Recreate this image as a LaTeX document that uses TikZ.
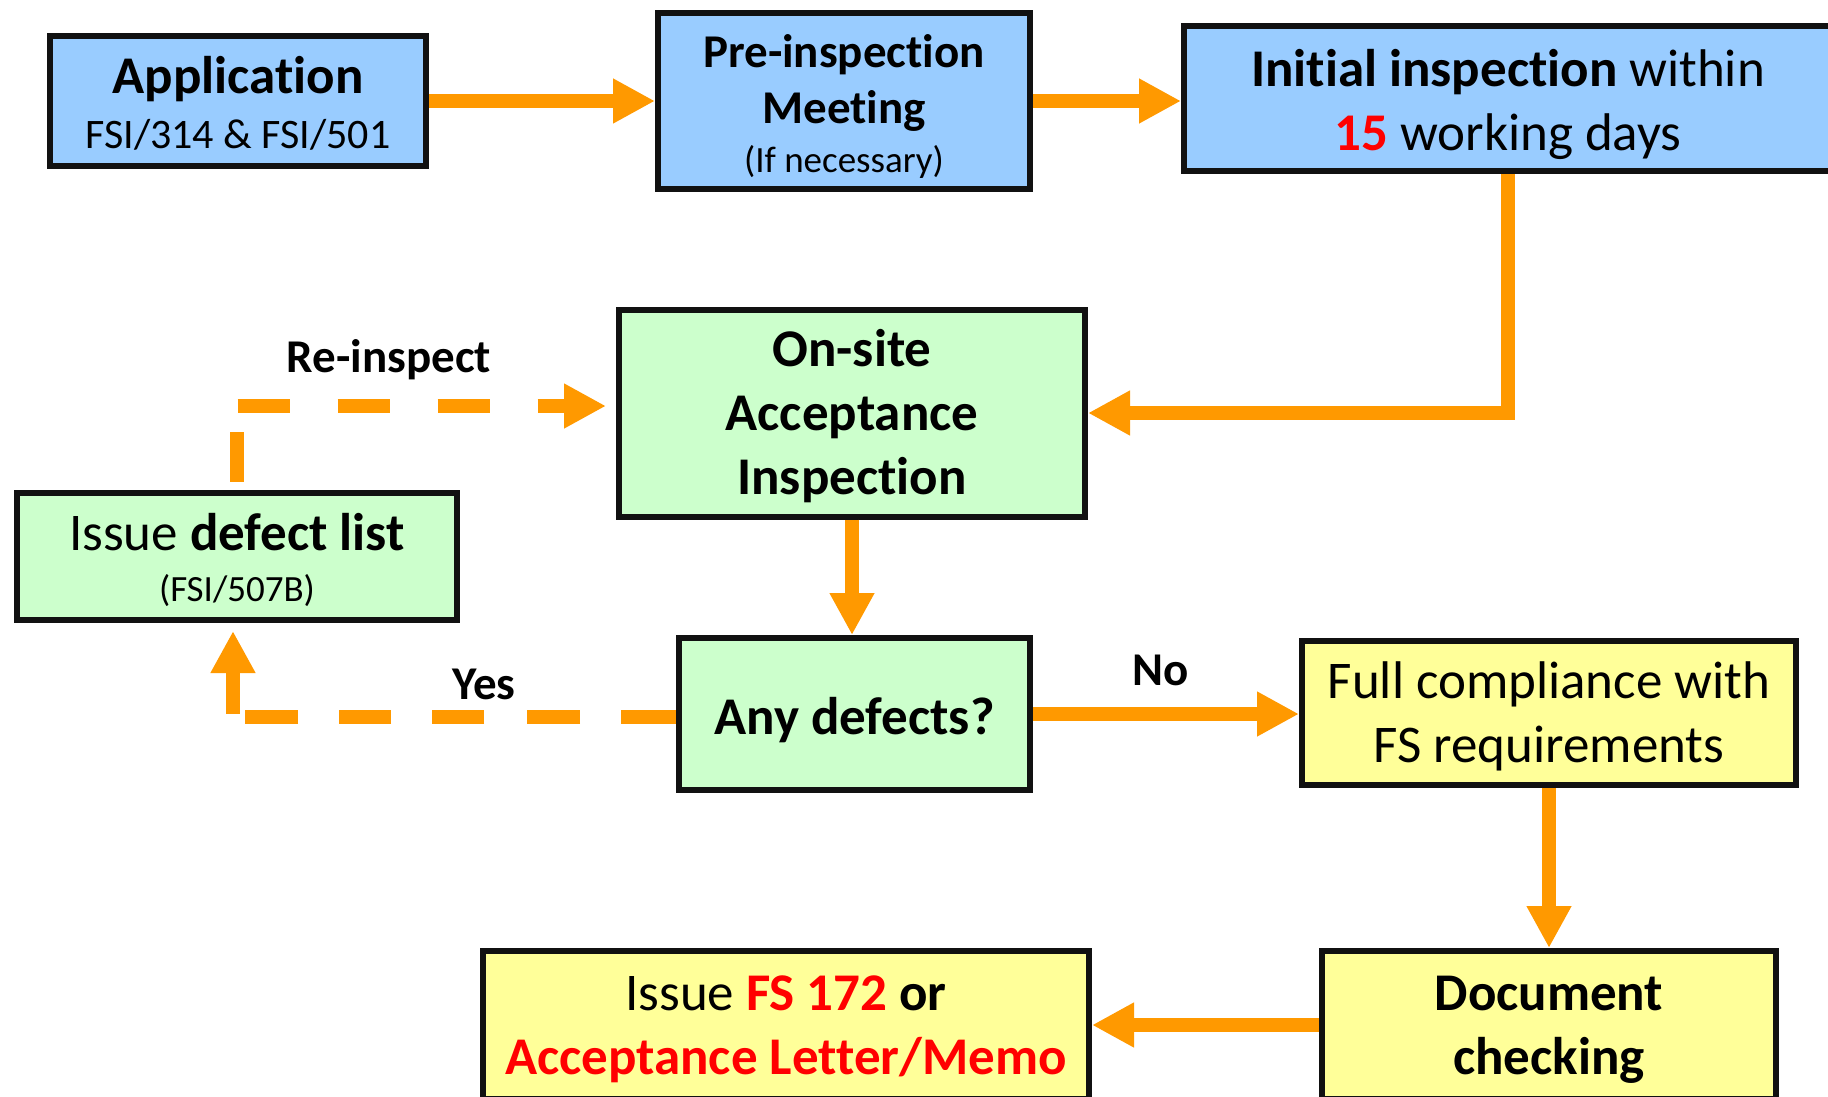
\documentclass[tikz,border=0pt]{standalone}
\usepackage{fontspec}
\setmainfont{Carlito}[Ligatures=NoCommon]
\usetikzlibrary{arrows.meta,calc}
\definecolor{boxblue}{HTML}{99CCFF}
\definecolor{boxgreen}{HTML}{CCFFCC}
\definecolor{boxyellow}{HTML}{FFFF99}
\definecolor{orng}{HTML}{FF9900}
\definecolor{redtxt}{HTML}{FF0000}
\definecolor{edge}{HTML}{111111}
\newcommand{\bigf}{\fontsize{53}{64}\selectfont}
\newcommand{\midf}{\fontsize{47}{56}\selectfont}
\newcommand{\subf}{\fontsize{42}{50}\selectfont}
\newcommand{\smlf}{\fontsize{37}{44}\selectfont}
% lower a line's ink without changing its size
\newcommand{\dl}[2]{\raisebox{-#1}[\height][\depth]{#2}}
\begin{document}
\begin{tikzpicture}[x=1pt,y=-1pt,
  box/.style={draw=edge, line width=6pt, inner sep=0pt, align=center, font=\bigf},
  bluebox/.style={box, fill=boxblue},
  greenbox/.style={box, fill=boxgreen},
  yellowbox/.style={box, fill=boxyellow},
  arr/.style={draw=orng, line width=14pt, line join=miter, -{Triangle[length=42pt,width=42pt]}},
  darr/.style={arr, dash pattern=on 52pt off 44pt},
  lbl/.style={font=\midf\bfseries, inner sep=0pt}]
\useasboundingbox (0,0) rectangle (1828,1097);
\clip (0,0) rectangle (1828,1097);
\fill[white] (0,0) rectangle (1828,1097);

% boxes
\node[bluebox, minimum width=376pt, minimum height=130pt] (app) at (238,101)
  {\dl{2.5pt}{\bfseries Application}\\[-9pt]\dl{2.5pt}{\subf FSI/314 \& FSI/501}};
\node[bluebox, minimum width=372pt, minimum height=175pt] (pre) at (844,101)
  {\dl{5pt}{\midf\bfseries Pre-inspection}\\[-8pt]\dl{5pt}{\midf\bfseries Meeting}\\[-15pt]\dl{5pt}{\smlf (If necessary)}};
\node[bluebox, minimum width=648pt, minimum height=145pt] (init) at (1508,98.5)
  {\dl{5.8pt}{{\bfseries Initial inspection} within}\\\dl{5.8pt}{{\color{redtxt}\bfseries 15} working days}};
\node[greenbox, minimum width=466pt, minimum height=207pt, font=\bigf\bfseries] (onsite) at (852,413)
  {\dl{3.5pt}{On-site}\\\dl{3.5pt}{Acceptance}\\\dl{3.5pt}{Inspection}};
\node[greenbox, minimum width=440pt, minimum height=127pt] (defect) at (237,556)
  {\dl{4pt}{Issue {\bfseries defect list}}\\[-12.4pt]\dl{4pt}{\smlf (FSI/507B)}};
\node[greenbox, minimum width=351pt, minimum height=152pt, font=\bigf\bfseries] (any) at (854.5,714)
  {\dl{5.8pt}{Any defects?}};
\node[yellowbox, minimum width=494pt, minimum height=144pt] (full) at (1549,713)
  {\dl{3.5pt}{Full compliance with}\\\dl{3.5pt}{FS requirements}};
\node[yellowbox, minimum width=454pt, minimum height=148pt, font=\bigf\bfseries] (doc) at (1549,1025)
  {\dl{4.7pt}{Document}\\\dl{4.7pt}{checking}};
\node[yellowbox, minimum width=606pt, minimum height=148pt] (issue) at (786,1025)
  {\dl{4.7pt}{Issue {\color{redtxt}\bfseries FS 172} {\bfseries or}}\\\dl{4.7pt}{\color{redtxt}\bfseries Acceptance Letter/Memo}};

% connectors
\draw[arr] (app.east) -- (pre.west);
\draw[arr] (pre.east) -- (pre.east -| init.west);
\draw[arr] (init.south) |- (onsite.east);
\draw[arr] (onsite.south) -- (onsite.south |- any.north);
\draw[arr] (any.east) -- (any.east -| full.west);
\draw[arr] (full.south) -- (doc.north);
\draw[arr] (doc.west) -- (doc.west -| issue.east);
\draw[darr, shorten >=8.5pt,
  dash pattern=on 55pt off 41pt on 53pt off 43pt on 52pt off 41pt on 52pt off 41pt on 53pt off 15pt on 300pt off 1pt]
  ($(any.west)+(0,3)$) -| ($(defect.south)+(-4,0)$);
\draw[darr, shorten >=10pt,
  dash pattern=on 0pt off 8pt on 50pt off 26pt on 52pt off 48pt on 52pt off 48pt on 52pt off 48pt on 300pt off 1pt]
  (defect.north) |- ($(onsite.west)+(0,-7)$);

% labels
\node[lbl] (no) at (1161,670) {No};
\node[lbl] (yes) at (484,684) {Yes};
\node[lbl] (reinspect) at (389,359.5) {Re-inspect};
\end{tikzpicture}
\end{document}
